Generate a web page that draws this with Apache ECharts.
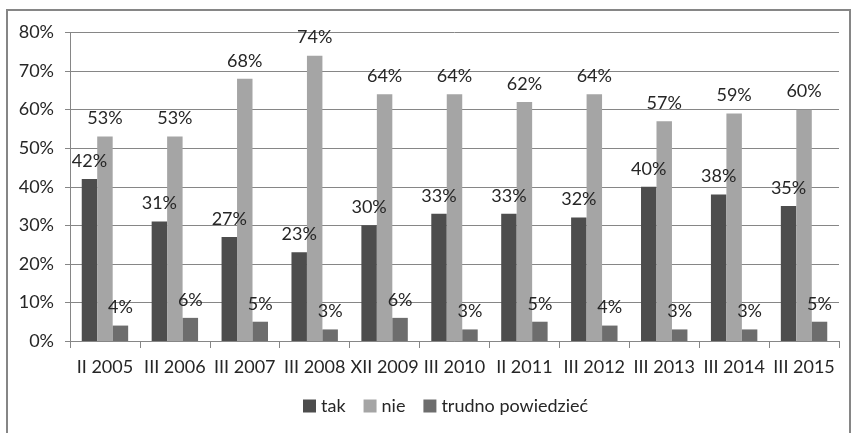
<!DOCTYPE html>
<html><head><meta charset="utf-8">
<script src="https://cdn.jsdelivr.net/npm/echarts@6/dist/echarts.min.js"></script>
<style>html,body{margin:0;padding:0;background:#fff}#c{width:851px;height:433px}</style>
</head><body><div id="c"></div>
<script>
const categories = ['II 2005','III 2006','III 2007','III 2008','XII 2009','III 2010','II 2011','III 2012','III 2013','III 2014','III 2015'];
const tak = [42,31,27,23,30,33,33,32,40,38,35];
const nie = [53,53,68,74,64,64,62,64,57,59,60];
const trudno = [4,6,5,3,6,3,5,4,3,3,5];
const seriesNames = ['tak','nie','trudno powiedzieć'];
const colors = ['#4d4d4d','#a5a5a5','#6d6d6d'];
const FONT = 'Lato';
const FS = 18;
const chart = echarts.init(document.getElementById('c'), null, {renderer:'canvas'});
function mk(name, data, color){
  return {name, type:'bar', data, barGap:'0%', barCategoryGap:'33.6%',
    itemStyle:{color},
    label:{show:true, position:'top', distance:9, formatter:'{c}%', color:'#262626', fontFamily:FONT, fontSize:FS},
    emphasis:{disabled:true}, animation:false};
}
chart.setOption({
  animation:false,
  textStyle:{fontFamily:FONT},
  graphic:[{type:'rect', shape:{x:7, y:10, width:843, height:440}, style:{fill:null, stroke:'#868686', lineWidth:2}, silent:true}],
  grid:{left:70, right:12, top:32.5, bottom:92, containLabel:false},
  legend:{data:seriesNames, bottom:13, left:298, itemWidth:13, itemHeight:13, itemGap:18,
    textStyle:{fontFamily:FONT, fontSize:FS, color:'#262626'}, icon:'rect', selectedMode:false},
  xAxis:{type:'category', data:categories,
    axisLine:{lineStyle:{color:'#868686'}},
    axisTick:{show:true, length:7, lineStyle:{color:'#868686'}},
    axisLabel:{color:'#262626', fontFamily:FONT, fontSize:FS, margin:17, interval:0}},
  yAxis:{type:'value', min:0, max:80, interval:10,
    axisLine:{show:true, lineStyle:{color:'#868686'}},
    axisTick:{show:true, length:5, lineStyle:{color:'#868686'}},
    splitLine:{lineStyle:{color:'#868686'}},
    axisLabel:{formatter:'{value}%', color:'#262626', fontFamily:FONT, fontSize:FS, margin:16}},
  series:[mk(seriesNames[0], tak, colors[0]), mk(seriesNames[1], nie, colors[1]), mk(seriesNames[2], trudno, colors[2])]
});
</script></body></html>
